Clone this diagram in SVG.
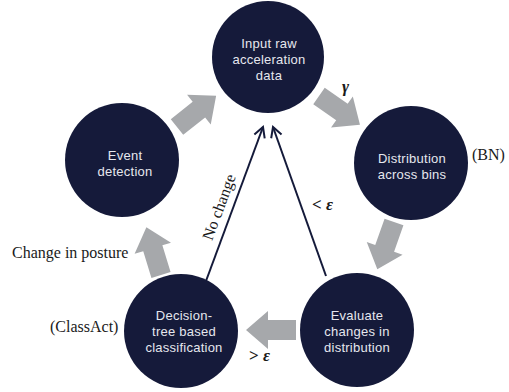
<svg xmlns="http://www.w3.org/2000/svg" width="509" height="392" viewBox="0 0 509 392">
  <style>
    .node { fill: #151a3a; }
    .label { font-family: "Liberation Sans", Arial, sans-serif; font-size: 13px; letter-spacing: 0.25px; fill: #e6e7ee; text-anchor: middle; }
    .note { font-family: "Liberation Serif", "Times New Roman", serif; font-size: 16px; fill: #1a1a1a; }
    .sym { font-family: "Liberation Serif", "DejaVu Serif", serif; font-size: 17px; font-weight: bold; fill: #1a1a1a; }
    .flow { fill: #a6a8ab; }
    .link { stroke: #141a3a; stroke-width: 2; fill: none; }
  </style>
  <defs>
    <!-- block arrow pointing along +x, tail at origin -->
    <path id="blockArrow" d="M0,-10 L28,-10 L28,-19 L50,0 L28,19 L28,10 L0,10 Z"/>
    <marker id="vhead" viewBox="-12 -7 14 14" markerWidth="14" markerHeight="14" refX="0" refY="0" orient="auto" markerUnits="userSpaceOnUse">
      <path d="M-10,-5.5 L0,0 L-10,5.5" fill="none" stroke="#141a3a" stroke-width="2"/>
    </marker>
  </defs>

  <g id="connectors">
    <use href="#blockArrow" class="flow" transform="translate(177,127) rotate(-38.5)"/>
    <use href="#blockArrow" class="flow" transform="translate(319,96) rotate(35)"/>
    <use href="#blockArrow" class="flow" transform="translate(394,222) rotate(109.5)"/>
    <use href="#blockArrow" class="flow" transform="translate(296,330) rotate(180)"/>
    <use href="#blockArrow" class="flow" transform="translate(161,275) rotate(-107)"/>
    <line class="link" x1="206" y1="281" x2="263" y2="127" marker-end="url(#vhead)"/>
    <line class="link" x1="326" y1="276" x2="273" y2="127" marker-end="url(#vhead)"/>
  </g>

  <g id="node-input">
    <circle class="node" cx="268" cy="57" r="56"/>
    <text class="label" x="269" y="48">Input raw</text>
    <text class="label" x="269" y="64">acceleration</text>
    <text class="label" x="269" y="80">data</text>
  </g>

  <g id="node-distribution">
    <circle class="node" cx="411" cy="163" r="57"/>
    <text class="label" x="412" y="163">Distribution</text>
    <text class="label" x="412" y="179">across bins</text>
  </g>

  <g id="node-evaluate">
    <circle class="node" cx="357" cy="330" r="57"/>
    <text class="label" x="357" y="320">Evaluate</text>
    <text class="label" x="357" y="336">changes in</text>
    <text class="label" x="357" y="352">distribution</text>
  </g>

  <g id="node-decision">
    <circle class="node" cx="181" cy="331" r="57"/>
    <text class="label" x="184" y="320">Decision-</text>
    <text class="label" x="184" y="336">tree based</text>
    <text class="label" x="184" y="352">classification</text>
  </g>

  <g id="node-event">
    <circle class="node" cx="122" cy="160" r="57"/>
    <text class="label" x="125" y="160">Event</text>
    <text class="label" x="125" y="176">detection</text>
  </g>

  <g id="annotations">
    <text class="sym" x="342" y="92" font-style="italic">γ</text>
    <text class="note" x="472" y="160">(BN)</text>
    <text class="sym" x="312" y="210">&lt; <tspan font-style="italic">ε</tspan></text>
    <text class="sym" x="249" y="361">&gt; <tspan font-style="italic">ε</tspan></text>
    <text class="note" x="12" y="258">Change in posture</text>
    <text class="note" x="50" y="332">(ClassAct)</text>
    <text class="note" font-size="15" text-anchor="middle" transform="translate(224,209) rotate(-69.7)">No change</text>
  </g>
</svg>
